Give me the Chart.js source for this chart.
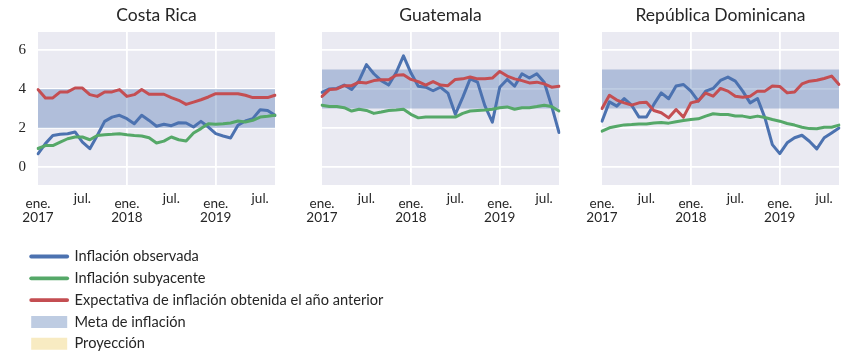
<!DOCTYPE html>
<html><head><meta charset="utf-8">
<script src="https://cdn.jsdelivr.net/npm/chart.js@4/dist/chart.umd.min.js"></script>
<style>
html,body{margin:0;padding:0;background:#fff;overflow:hidden;width:847px;height:358px;}
canvas{position:absolute;}
</style></head><body>
<canvas id="c0" width="287" height="232" style="left:0px;top:0px"></canvas>
<canvas id="c1" width="287" height="232" style="left:284px;top:0px"></canvas>
<canvas id="c2" width="287" height="232" style="left:564px;top:0px"></canvas>
<canvas id="lg" width="810" height="130" style="left:24px;top:242px"></canvas>
<script>
const months = ['2017-01','2017-02','2017-03','2017-04','2017-05','2017-06','2017-07','2017-08','2017-09','2017-10','2017-11','2017-12',
'2018-01','2018-02','2018-03','2018-04','2018-05','2018-06','2018-07','2018-08','2018-09','2018-10','2018-11','2018-12',
'2019-01','2019-02','2019-03','2019-04','2019-05','2019-06','2019-07','2019-08','2019-09'];
const monthNames = {'01':'ene.','07':'jul.'};
const countries = ['Costa Rica','Guatemala','República Dominicana'];
const yTicks = [0,2,4,6];

const obsCR = [0.68,1.2,1.62,1.68,1.71,1.8,1.28,0.94,1.62,2.34,2.56,2.65,2.48,2.22,2.65,2.39,2.09,2.19,2.12,2.27,2.26,2.05,2.34,2.05,1.71,1.59,1.49,2.14,2.36,2.48,2.94,2.9,2.65];
const subCR = [0.95,1.1,1.1,1.28,1.45,1.54,1.54,1.4,1.62,1.66,1.68,1.71,1.66,1.62,1.59,1.5,1.23,1.33,1.54,1.4,1.33,1.74,1.97,2.22,2.19,2.22,2.26,2.36,2.31,2.39,2.56,2.6,2.65];
const expCR = [3.97,3.54,3.54,3.85,3.85,4.05,4.05,3.71,3.62,3.85,3.85,3.97,3.62,3.71,3.97,3.73,3.73,3.73,3.56,3.42,3.21,3.33,3.45,3.59,3.76,3.76,3.76,3.76,3.68,3.56,3.56,3.56,3.68];

const obsGT = [3.83,4.0,4.03,4.2,3.97,4.43,5.25,4.78,4.43,4.2,4.83,5.7,4.83,4.14,4.09,3.91,4.09,3.79,2.7,3.57,4.52,4.35,3.13,2.3,4.09,4.49,4.14,4.78,4.56,4.78,4.35,3.13,1.77];
const subGT = [3.17,3.1,3.1,3.04,2.87,2.96,2.9,2.75,2.82,2.9,2.92,2.96,2.7,2.52,2.57,2.56,2.57,2.57,2.56,2.75,2.87,2.9,2.92,2.96,3.04,3.08,2.96,3.04,3.04,3.1,3.17,3.1,2.87];
const expGT = [3.62,3.97,4.0,4.17,4.17,4.35,4.31,4.43,4.47,4.47,4.7,4.73,4.49,4.38,4.2,4.38,4.2,4.17,4.49,4.52,4.61,4.52,4.52,4.56,4.9,4.66,4.52,4.43,4.31,4.35,4.26,4.09,4.14];

const obsRD = [2.35,3.34,3.12,3.51,3.17,2.56,2.56,3.21,3.8,3.5,4.15,4.23,3.89,3.38,3.89,4.03,4.44,4.61,4.4,3.89,3.29,3.51,2.52,1.15,0.69,1.24,1.5,1.63,1.32,0.93,1.5,1.75,2.0];
const subRD = [1.84,2.01,2.09,2.16,2.18,2.21,2.21,2.26,2.28,2.25,2.32,2.38,2.44,2.47,2.61,2.73,2.69,2.69,2.62,2.61,2.54,2.61,2.54,2.44,2.35,2.23,2.15,2.04,1.97,1.96,2.04,2.04,2.15];
const expRD = [3.0,3.68,3.43,3.29,3.17,3.29,3.32,2.9,2.78,2.52,2.95,2.56,3.29,3.38,3.79,3.63,4.03,3.89,3.63,3.58,3.63,3.89,3.89,4.15,4.13,3.8,3.85,4.26,4.4,4.45,4.54,4.66,4.23];

const metaLow = [2,3,3];
const metaHigh = [4,5,5];

const seriesNames = ['Inflación observada','Inflación subyacente','Expectativa de inflación obtenida el año anterior','Meta de inflación','Proyección'];
const seriesColors = ['#4C72B0','#55A868','#C44E52','rgba(76,114,176,0.36)','#F8EBC2'];

const obsAll = [obsCR, obsGT, obsRD];
const subAll = [subCR, subGT, subRD];
const expAll = [expCR, expGT, expRD];

const TXT = '#262626';
const FONT = 'Lato';

const bgPlugin = {
  id: 'plotbg',
  beforeDraw(chart) {
    const a = chart.chartArea; const ctx = chart.ctx;
    ctx.save(); ctx.fillStyle = '#EAEAF2';
    ctx.fillRect(a.left, a.top, a.right - a.left, a.bottom - a.top);
    ctx.restore();
  }
};

function tickLabel(i) {
  const m = months[i]; if (!m) return '';
  const mm = m.slice(5), yy = m.slice(0, 4);
  if (mm === '01') return [monthNames[mm], yy];
  if (mm === '07') return monthNames[mm];
  return '';
}

countries.forEach((name, k) => {
  const line = (data, color, order) => ({
    data, borderColor: color, backgroundColor: color, borderWidth: 3,
    pointRadius: 0, tension: 0, fill: false, order, borderJoinStyle: 'round', borderCapStyle: 'round'
  });
  new Chart(document.getElementById('c' + k), {
    type: 'line',
    data: {
      labels: months,
      datasets: [
        line(obsAll[k], seriesColors[0], 3),
        line(subAll[k], seriesColors[1], 2),
        line(expAll[k], seriesColors[2], 1),
        { data: months.map(() => metaLow[k]), borderWidth: 0, borderColor: 'transparent', pointRadius: 0, fill: false, order: 6 },
        { data: months.map(() => metaHigh[k]), borderWidth: 0, borderColor: 'transparent', pointRadius: 0, fill: '-1', backgroundColor: seriesColors[3], order: 5 }
      ]
    },
    options: {
      responsive: false, animation: false, devicePixelRatio: 1,
      layout: { padding: { left: 0, right: 12, top: 0, bottom: 0 } },
      plugins: {
        legend: { display: false }, tooltip: { enabled: false },
        title: { display: true, text: name, fullSize: false, color: TXT,
          font: { family: FONT, size: 17.5, weight: 'normal', lineHeight: 1.2 },
          padding: { top: 5, bottom: 6 } }
      },
      scales: {
        x: {
          type: 'category',
          border: { display: false },
          grid: { drawTicks: false, lineWidth: 1.8,
            color: (c) => (c.index > 0 && months[c.index] && months[c.index].endsWith('-01')) ? '#FFFFFF' : 'rgba(0,0,0,0)' },
          ticks: { autoSkip: false, maxRotation: 0, minRotation: 0, padding: 12, color: TXT,
            callback: (v, i) => tickLabel(i),
            font: (c) => (months[c.index] && months[c.index].endsWith('-07'))
              ? { family: FONT, size: 13.5, lineHeight: '4px' }
              : { family: FONT, size: 13.5, lineHeight: '14px' } },
          afterFit: (s) => { s.height = 47; }
        },
        y: {
          min: -0.92, max: 6.92,
          border: { display: false },
          grid: { drawTicks: false, color: '#FFFFFF', lineWidth: 1.8 },
          afterBuildTicks: (s) => { s.ticks = yTicks.map(v => ({ value: v })); },
          ticks: { display: k === 0, padding: 12, color: TXT,
            font: { family: 'Liberation Serif', size: 15 } },
          afterFit: (s) => { s.width = 38; }
        }
      }
    },
    plugins: [bgPlugin]
  });
});

new Chart(document.getElementById('lg'), {
  type: 'line',
  data: { labels: [], datasets: [] },
  options: {
    responsive: false, animation: false, devicePixelRatio: 1,
    layout: { padding: 0 },
    scales: { x: { display: false }, y: { display: false } },
    plugins: {
      tooltip: { enabled: false },
      legend: {
        display: true, position: 'left', align: 'start', maxWidth: 600,
        labels: {
          usePointStyle: true, pointStyleWidth: 36, boxHeight: 12, padding: 7.2,
          color: TXT, font: { family: FONT, size: 14.6 },
          generateLabels: () => seriesNames.map((t, i) => i < 3
            ? { text: t, pointStyle: 'line', strokeStyle: seriesColors[i], fillStyle: seriesColors[i], lineWidth: 3.8, lineCap: 'round', fontColor: TXT }
            : { text: t, pointStyle: 'rect', fillStyle: seriesColors[i], strokeStyle: 'rgba(0,0,0,0)', lineWidth: 0, fontColor: TXT })
        }
      }
    }
  }
});
</script>
</body></html>
